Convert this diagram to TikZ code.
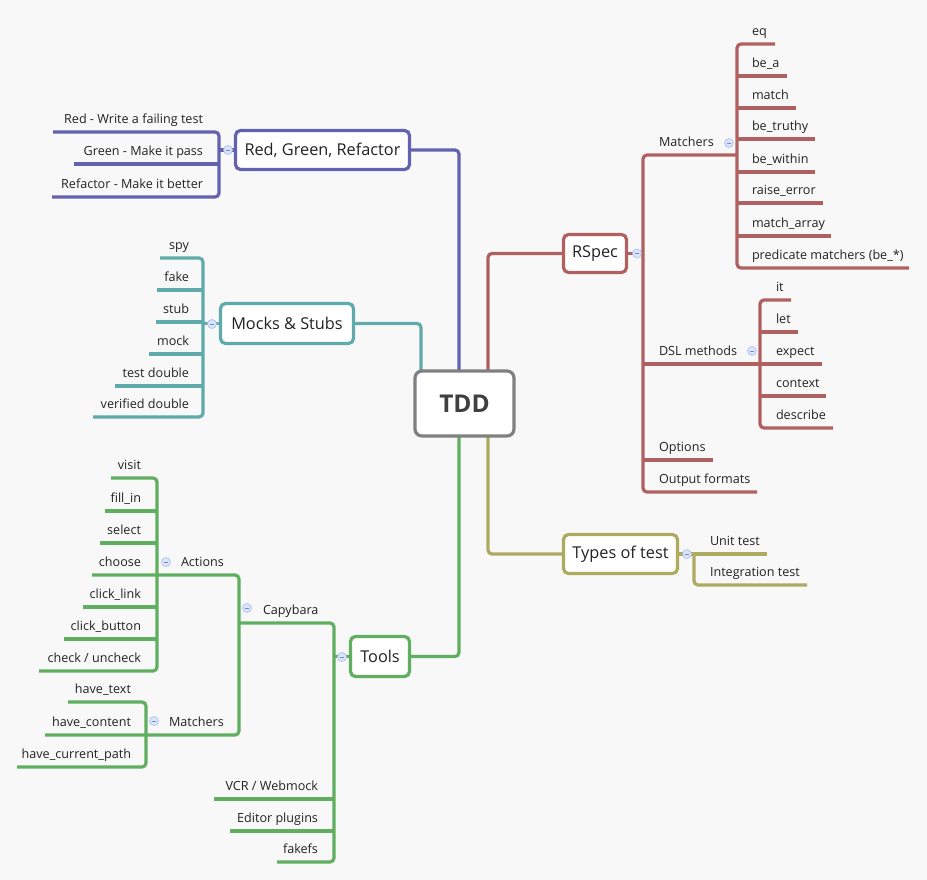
\documentclass[tikz,border=0pt]{standalone}
\usepackage{fontspec}
\setmainfont{Open Sans}
\pgfdeclarelayer{bg}
\pgfsetlayers{bg,main}
\definecolor{bgc}{RGB}{248,248,248}
\definecolor{purp}{RGB}{98,98,176}
\definecolor{teal2}{RGB}{95,170,170}
\definecolor{redb}{RGB}{176,96,96}
\definecolor{olive2}{RGB}{174,170,96}
\definecolor{grn}{RGB}{96,174,96}
\definecolor{boxgray}{RGB}{128,128,128}
\definecolor{txt}{RGB}{34,34,34}
\definecolor{cfill}{RGB}{218,228,250}
\definecolor{cdraw}{RGB}{168,190,234}
\definecolor{cminus}{RGB}{110,140,210}
\tikzset{
  leaf/.style={inner sep=0pt, outer sep=0pt, text=txt, font=\fontsize{12.6}{15}\selectfont},
  branch/.style={line width=3.2pt, rounded corners=4pt},
  topic/.style={draw, line width=3.2pt, rounded corners=5pt, fill=white, inner sep=0pt, outer sep=0pt,
    text=txt, font=\fontsize{16.3}{19}\selectfont},
  collapse/.style={circle, minimum size=9pt, inner sep=0pt, fill=cfill, draw=cdraw, line width=0.6pt,
    path picture={\draw[cminus, line width=0.7pt] ([xshift=-2pt]path picture bounding box.center) -- ([xshift=2pt]path picture bounding box.center);}}
}
\newcommand\Ltx[4]{\node[leaf, anchor=base east] (#1) at (#2,{#3-8.5}) {#4};}
\newcommand\Rtx[4]{\node[leaf, anchor=base west] (#1) at (#2,{#3-8.5}) {#4};}
\begin{document}
\begin{tikzpicture}[x=1pt, y=-1pt]
\begin{pgfonlayer}{bg}
\fill[bgc] (0,0) rectangle (927,880);
\end{pgfonlayer}
\useasboundingbox (0,0) rectangle (927,880);

% ---------- topics ----------
\node[topic, draw=boxgray, minimum width=99pt, minimum height=65pt, rounded corners=7pt,
      font=\fontsize{24.5}{28}\selectfont\bfseries, text={rgb,255:red,64;green,64;blue,64}] (tdd) at (464.5,403.5) {TDD};
\node[topic, draw=purp, minimum width=174pt, minimum height=39pt] (rgr) at (322.5,150) {Red, Green, Refactor};
\node[topic, draw=teal2, minimum width=133pt, minimum height=40pt] (ms) at (287,323.5) {Mocks \& Stubs};
\node[topic, draw=redb, minimum width=63pt, minimum height=38pt] (rspec) at (595,253.5) {RSpec};
\node[topic, draw=olive2, minimum width=114pt, minimum height=39pt] (types) at (620.5,554) {Types of test};
\node[topic, draw=grn, minimum width=59pt, minimum height=40pt] (tools) at (380,656.5) {Tools};

\begin{pgfonlayer}{bg}
% ---------- main connectors ----------
\draw[branch, purp] ([xshift=44pt]tdd.north west) |- (rgr.east);
\draw[branch, teal2] ([xshift=6pt]tdd.north west) |- (ms.east);
\draw[branch, redb] ([xshift=73pt]tdd.north west) |- (rspec.west);
\draw[branch, grn] ([xshift=44pt]tdd.south west) |- (tools.east);
\draw[branch, olive2] ([xshift=73pt]tdd.south west) |- (types.west);

% ---------- Red, Green, Refactor ----------
\coordinate (rgrB) at (219,150);
\draw[branch, purp] (rgr.west) -- (rgrB);
\draw[branch, purp] (53,132) -- (219,132) -- (219,197) -- (52,197);
\draw[branch, purp] (74,164) -- (219,164);

% ---------- Mocks & Stubs ----------
\coordinate (msB) at (203,323.5);
\draw[branch, teal2] (ms.west) -- (msB);
\draw[branch, teal2] (160,258) -- (203,258) -- (203,417) -- (93,417);
\draw[branch, teal2] (157,290) -- (203,290);
\draw[branch, teal2] (156,322) -- (203,322);
\draw[branch, teal2] (149,354) -- (203,354);
\draw[branch, teal2] (115,386) -- (203,386);

% ---------- RSpec ----------
\coordinate (rsB) at (643,253.5);
\draw[branch, redb] (rspec.east) -- (rsB);
\draw[branch, redb] (737,155) -- (643,155) -- (643,492) -- (757,492);
\draw[branch, redb] (643,364) -- (822,364);
\draw[branch, redb] (643,460) -- (713,460);
% matchers
\draw[branch, redb] (775,44) -- (737,44) -- (737,268) -- (909,268);
\draw[branch, redb] (737,76) -- (787,76);
\draw[branch, redb] (737,108) -- (796,108);
\draw[branch, redb] (737,139) -- (815,139);
\draw[branch, redb] (737,172) -- (815,172);
\draw[branch, redb] (737,203) -- (823,203);
\draw[branch, redb] (737,236) -- (831,236);
% DSL
\draw[branch, redb] (791,300) -- (760,300) -- (760,428) -- (833,428);
\draw[branch, redb] (760,332) -- (798,332);
\draw[branch, redb] (760,396) -- (826,396);

% ---------- Types of test ----------
\draw[branch, olive2] (types.east) -- (767,554);
\draw[branch, olive2] (694,554) -- (694,585) -- (807,585);

% ---------- Tools ----------
\coordinate (tlB) at (334,656.5);
\draw[branch, grn] (tools.west) -- (tlB);
\draw[branch, grn] (239,623) -- (334,623) -- (334,862) -- (277,862);
\draw[branch, grn] (214,799) -- (334,799);
\draw[branch, grn] (230,831) -- (334,831);
% capybara
\draw[branch, grn] (92,575) -- (239,575) -- (239,735) -- (45,735);
% actions
\draw[branch, grn] (111,478) -- (157,478) -- (157,671) -- (39,671);
\draw[branch, grn] (105,511) -- (157,511);
\draw[branch, grn] (100,543) -- (157,543);
\draw[branch, grn] (83,607) -- (157,607);
\draw[branch, grn] (64,639) -- (157,639);
% matchers
\draw[branch, grn] (68,702) -- (146,702) -- (146,767) -- (17,767);
\end{pgfonlayer}

% ---------- collapse markers ----------
\node[collapse] (c1) at (228,150) {};
\node[collapse] (c2) at (212,324) {};
\node[collapse] (c3) at (637,253.5) {};
\node[collapse] (c4) at (729,143) {};
\node[collapse] (c5) at (752,351) {};
\node[collapse] (c6) at (687,554) {};
\node[collapse] (c7) at (342,657) {};
\node[collapse] (c8) at (247,608) {};
\node[collapse] (c9) at (166,562) {};
\node[collapse] (c10) at (154,721) {};

% ---------- texts ----------
\Ltx{p1}{203}{132}{Red - Write a failing test}
\Ltx{p2}{203}{164}{Green - Make it pass}
\Ltx{p3}{203}{197}{Refactor - Make it better}

\Ltx{t1}{189}{258}{spy}
\Ltx{t2}{189}{290}{fake}
\Ltx{t3}{189}{322}{stub}
\Ltx{t4}{189}{354}{mock}
\Ltx{t5}{189}{386}{test double}
\Ltx{t6}{189}{417}{verified double}

\Rtx{r1}{659}{155}{Matchers}
\Rtx{r2}{659}{364}{DSL methods}
\Rtx{r3}{659}{460}{Options}
\Rtx{r4}{659}{492}{Output formats}

\Rtx{m1}{752}{44}{eq}
\Rtx{m2}{752}{76}{be\_a}
\Rtx{m3}{752}{108}{match}
\Rtx{m4}{752}{139}{be\_truthy}
\Rtx{m5}{752}{172}{be\_within}
\Rtx{m6}{752}{203}{raise\_error}
\Rtx{m7}{752}{236}{match\_array}
\Rtx{m8}{752}{268}{predicate matchers (be\_*)}

\Rtx{d1}{776}{300}{it}
\Rtx{d2}{776}{332}{let}
\Rtx{d3}{776}{364}{expect}
\Rtx{d4}{776}{396}{context}
\Rtx{d5}{776}{428}{describe}

\Rtx{o1}{710}{554}{Unit test}
\Rtx{o2}{710}{585}{Integration test}

\Rtx{g1}{263}{623}{Capybara}
\Ltx{g2}{318}{799}{VCR / Webmock}
\Ltx{g3}{318}{831}{Editor plugins}
\Ltx{g4}{318}{862}{fakefs}

\Rtx{ca}{181}{575}{Actions}
\Rtx{cm}{169}{735}{Matchers}

\Ltx{a1}{141}{478}{visit}
\Ltx{a2}{141}{511}{fill\_in}
\Ltx{a3}{141}{543}{select}
\Ltx{a4}{141}{575}{choose}
\Ltx{a5}{141}{607}{click\_link}
\Ltx{a6}{141}{639}{click\_button}
\Ltx{a7}{141}{671}{check / uncheck}

\Ltx{h1}{131}{702}{have\_text}
\Ltx{h2}{131}{735}{have\_content}
\Ltx{h3}{131}{767}{have\_current\_path}
\end{tikzpicture}
\end{document}
